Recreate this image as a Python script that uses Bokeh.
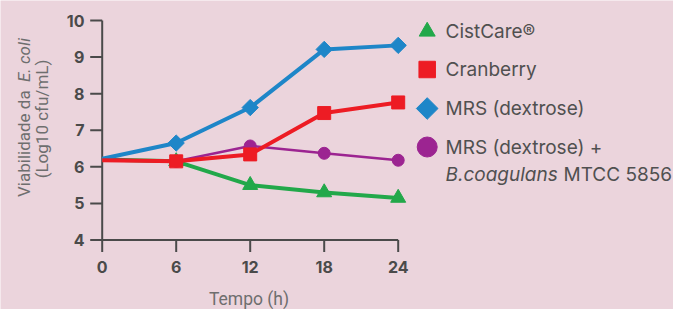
import math
from bokeh.plotting import figure
from bokeh.models import Range1d
from bokeh.core.properties import value
from bokeh.embed import file_html
from bokeh.resources import INLINE

# ---- data ----
hours = [0, 6, 12, 18, 24]
cistcare = [6.20, 6.15, 5.50, 5.30, 5.15]
cranberry = [6.18, 6.15, 6.34, 7.47, 7.76]
mrs = [6.22, 6.65, 7.62, 9.21, 9.32]
mrs_bc = [6.20, 6.15, 6.57, 6.37, 6.18]
x_ticks = [0, 6, 12, 18, 24]
y_ticks = [4, 5, 6, 7, 8, 9, 10]
legend_labels = ["CistCare®", "Cranberry", "MRS (dextrose)", "MRS (dextrose) +"]

BG = "#EBD4DC"
GREEN = "#22A84A"
RED = "#ED1C24"
BLUE = "#1E86C8"
PURPLE = "#9C2491"
AXIS = "#4A4A4A"
TXT = "#505050"
LIGHT = "#6E6E6E"
FONT = "Inter"
TFONT = "Roboto"

W, H = 673, 309
# pixel geometry of the plot area: x=0 at X0PX, y=4 at Y4PX
X0PX, Y4PX = 101.7, 239.5
XS = (397.7 - 101.7) / 24.0   # px per hour
YS = (239.5 - 20.0) / 6.0     # px per log unit


def dx(px):
    return (px - X0PX) / XS


def dy(py):
    return 4 + (Y4PX - py) / YS


p = figure(width=W, height=H, output_backend="svg", toolbar_location=None,
           x_range=Range1d(dx(0), dx(W)), y_range=Range1d(dy(H), dy(0)),
           x_axis_location=None, y_axis_location=None,
           min_border=0)
p.background_fill_color = BG
p.border_fill_color = BG
p.outline_line_color = None
p.grid.visible = False

# ---- axes (drawn through the data scales) ----
p.segment(x0=[0, 0], y0=[4, 4], x1=[0, x_ticks[-1]], y1=[y_ticks[-1], 4],
          line_color=AXIS, line_width=2)
TL = 12
p.segment(x0=[dx(X0PX - TL)] * len(y_ticks), y0=y_ticks,
          x1=[0] * len(y_ticks), y1=y_ticks, line_color=AXIS, line_width=2)
p.segment(x0=x_ticks, y0=[4] * len(x_ticks),
          x1=x_ticks, y1=[dy(Y4PX + TL)] * len(x_ticks),
          line_color=AXIS, line_width=2)
p.text(x=[dx(84)] * len(y_ticks), y=y_ticks, text=[str(t) for t in y_ticks],
       text_font=value(FONT), text_font_style="bold", text_font_size="16px",
       text_color=AXIS, text_align="right", text_baseline="middle")
p.text(x=x_ticks, y=[dy(266)] * len(x_ticks), text=[str(t) for t in x_ticks],
       text_font=value(FONT), text_font_style="bold", text_font_size="16px",
       text_color=AXIS, text_align="center", text_baseline="middle")

# ---- series ----
series = [
    (cistcare, GREEN, "triangle", 15, 4, 0),
    (mrs_bc, PURPLE, "circle", 12, 2.5, 0),
    (mrs, BLUE, "square", 11.5, 4, math.pi / 4),
    (cranberry, RED, "square", 13, 4, 0),
]
for ys, col, mk, sz, lw, ang in series:
    p.line(hours, ys, line_color=col, line_width=lw)
    p.scatter(hours[1:], ys[1:], marker=mk, size=sz, angle=ang,
              fill_color=col, line_color=col)

# ---- legend ----
leg = [
    (GREEN, "triangle", 16, 0, 31, legend_labels[0]),
    (RED, "square", 16.5, 0, 69, legend_labels[1]),
    (BLUE, "square", 15.3, math.pi / 4, 108, legend_labels[2]),
    (PURPLE, "circle", 20, 0, 146.5, legend_labels[3]),
]
LFS = "19px"
for col, mk, sz, ang, py, lab in leg:
    p.scatter([dx(426.7)], [dy(py)], marker=mk, size=sz, angle=ang,
              fill_color=col, line_color=col)
    p.text(x=[dx(445)], y=[dy(py)], text=[lab], text_font=value(FONT),
           text_font_size=LFS, text_color=TXT, text_baseline="middle")
p.text(x=[dx(445)], y=[dy(173.5)], text=["B.coagulans"], text_font=value(FONT),
       text_font_style="italic", text_font_size=LFS, text_color=TXT,
       text_baseline="middle")
p.text(x=[dx(563)], y=[dy(173.5)], text=["MTCC 5856"], text_font=value(FONT),
       text_font_size=LFS, text_color=TXT, text_baseline="middle")

# ---- axis titles ----
p.text(x=[dx(248.5)], y=[dy(298)], text=["Tempo (h)"], text_font=value(TFONT),
       text_font_size="17.5px", text_color=LIGHT, text_align="center",
       text_baseline="middle")
YT = "17px"
p.text(x=[dx(23.5)], y=[dy(196.5)], text=["Viabilidade da"],
       text_font=value(TFONT), text_font_size=YT, text_color=LIGHT,
       angle=math.pi / 2, text_align="left", text_baseline="alphabetic")
p.text(x=[dx(23.5)], y=[dy(81.5)], text=["E. coli"], text_font=value(TFONT),
       text_font_style="italic", text_font_size=YT, text_color=LIGHT,
       angle=math.pi / 2, text_align="left", text_baseline="alphabetic")
p.text(x=[dx(41)], y=[dy(118.5)], text=["(Log10 cfu/mL)"],
       text_font=value(TFONT), text_font_size=YT, text_color=LIGHT,
       angle=math.pi / 2, text_align="center", text_baseline="alphabetic")

open("out.html", "w").write(file_html(p, INLINE))
